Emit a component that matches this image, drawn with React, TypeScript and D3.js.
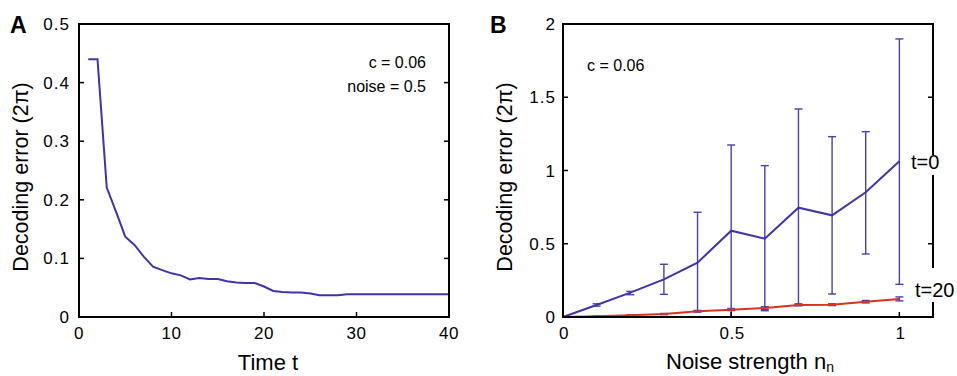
import React from "react";
import * as d3 from "d3";

const timeSteps = [1,2,3,4,5,6,7,8,9,10,11,12,13,14,15,16,17,18,19,20,21,22,23,24,25,26,27,28,29,30,31,32,33,34,35,36,37,38,39,40];
const errorA = [0.44,0.44,0.221,0.180,0.137,0.123,0.103,0.086,0.080,0.0745,0.071,0.064,0.0666,0.065,0.065,0.061,0.059,0.058,0.058,0.052,0.0444,0.0427,0.042,0.042,0.040,0.037,0.037,0.037,0.039,0.039,0.039,0.039,0.039,0.039,0.039,0.039,0.039,0.039,0.039,0.039];
const xTicksA = [0,10,20,30,40];
const yTicksA = [0,0.1,0.2,0.3,0.4,0.5];

const noiseLevels = [0,0.1,0.2,0.3,0.4,0.5,0.6,0.7,0.8,0.9,1.0];
const blueMean = [0,0.082,0.166,0.257,0.371,0.589,0.535,0.746,0.694,0.851,1.063];
const blueHi = [0,0.09,0.175,0.36,0.715,1.174,1.033,1.42,1.231,1.265,1.898];
const blueLo = [0,0.074,0.152,0.155,0.039,0.002,0.043,0.082,0.157,0.43,0.223];
const redMean = [0,0.005,0.012,0.02,0.039,0.05,0.061,0.082,0.084,0.104,0.123];
const redHi = [0,0.007,0.015,0.024,0.045,0.058,0.07,0.09,0.09,0.113,0.137];
const redLo = [0,0.003,0.009,0.016,0.033,0.044,0.052,0.076,0.078,0.096,0.11];
const xTicksB = [0,0.5,1];
const yTicksB = [0,0.5,1,1.5,2];

const BLUE = "#3f35a8";
const BLUE_ERR = "#4a40b0";
const RED = "#d8331f";
const FONT = "'Liberation Sans', Arial, sans-serif";

export default function App() {
  const top = 24, bottom = 317;
  const xA = d3.scaleLinear().domain([0, 40]).range([79, 449]);
  const yA = d3.scaleLinear().domain([0, 0.5]).range([bottom, top]);
  const xB = d3.scaleLinear().domain([0, 1.1]).range([563, 933]);
  const yB = d3.scaleLinear().domain([0, 2]).range([bottom, top]);

  const lineA = d3.line<number>().x((_, i) => xA(timeSteps[i])).y((d) => yA(d));
  const lineBlue = d3.line<number>().x((_, i) => xB(noiseLevels[i])).y((d) => yB(d));
  const tick = 5;
  const fmt = (v: number) => String(v);

  const errBars = (hi: number[], lo: number[], key: string) =>
    noiseLevels.map((n, i) => {
      if (hi[i] === lo[i]) return null;
      const x = xB(n);
      return (
        <g key={key + i} stroke={BLUE_ERR} strokeWidth={1.4}>
          <line x1={x} x2={x} y1={yB(hi[i])} y2={yB(lo[i])} />
          <line x1={x - 4} x2={x + 4} y1={yB(hi[i])} y2={yB(hi[i])} />
          <line x1={x - 4} x2={x + 4} y1={yB(lo[i])} y2={yB(lo[i])} />
        </g>
      );
    });

  return (
    <svg width={957} height={376} style={{ position: "fixed", left: 0, top: 0, background: "#fff" }} fontFamily={FONT}>
      <rect width={957} height={376} fill="#fff" />
      {/* Panel A */}
      <text x={10} y={33} fontSize={23} fontWeight="bold">A</text>
      <path d={lineA(errorA) || ""} fill="none" stroke={BLUE} strokeWidth={2} />
      <rect x={79} y={top} width={370} height={bottom - top} fill="none" stroke="#000" strokeWidth={2} />
      {xTicksA.map((t) => (
        <g key={"xa" + t}>
          <line x1={xA(t)} x2={xA(t)} y1={bottom} y2={bottom - tick} stroke="#000" strokeWidth={1.5} />
          <text x={xA(t)} y={339} fontSize={17} textAnchor="middle" letterSpacing={0.5}>{fmt(t)}</text>
        </g>
      ))}
      {yTicksA.map((t) => (
        <g key={"ya" + t}>
          <line x1={79} x2={79 + tick} y1={yA(t)} y2={yA(t)} stroke="#000" strokeWidth={1.5} />
          <line x1={449} x2={449 - tick} y1={yA(t)} y2={yA(t)} stroke="#000" strokeWidth={1.5} />
          <text x={70} y={yA(t) + 6} fontSize={17} textAnchor="end" letterSpacing={1}>{fmt(t)}</text>
        </g>
      ))}
      <text x={426} y={68} fontSize={16} textAnchor="end">c = 0.06</text>
      <text x={426} y={92} fontSize={16} textAnchor="end">noise = 0.5</text>
      <text x={268} y={370} fontSize={22} textAnchor="middle">Time t</text>
      <text transform="translate(28,177) rotate(-90)" fontSize={21.5} textAnchor="middle">Decoding error (2π)</text>

      {/* Panel B */}
      <text x={490} y={33} fontSize={23} fontWeight="bold">B</text>
      {errBars(blueHi, blueLo, "be")}
      {errBars(redHi, redLo, "re")}
      <path d={lineBlue(blueMean) || ""} fill="none" stroke={BLUE} strokeWidth={2} />
      <path d={lineBlue(redMean) || ""} fill="none" stroke={RED} strokeWidth={2} />
      <rect x={563} y={top} width={370} height={bottom - top} fill="none" stroke="#000" strokeWidth={2} />
      {xTicksB.map((t) => (
        <g key={"xb" + t}>
          <line x1={xB(t)} x2={xB(t)} y1={bottom} y2={bottom - tick} stroke="#000" strokeWidth={1.5} />
          <text x={xB(t) + 1} y={339} fontSize={17} textAnchor="middle" letterSpacing={0.5}>{fmt(t)}</text>
        </g>
      ))}
      {yTicksB.map((t) => (
        <g key={"yb" + t}>
          <line x1={563} x2={563 + tick} y1={yB(t)} y2={yB(t)} stroke="#000" strokeWidth={1.5} />
          <line x1={933} x2={933 - tick} y1={yB(t)} y2={yB(t)} stroke="#000" strokeWidth={1.5} />
          <text x={556} y={yB(t) + 6} fontSize={17} textAnchor="end" letterSpacing={1}>{fmt(t)}</text>
        </g>
      ))}
      <text x={587} y={71} fontSize={16}>c = 0.06</text>
      <rect x={910} y={155} width={34} height={20} fill="#fff" />
      <text x={911} y={169} fontSize={20}>t=0</text>
      <rect x={914} y={268} width={43} height={34} fill="#fff" />
      <text x={915} y={297} fontSize={20}>t=20</text>
      <text x={750} y={369} fontSize={22} textAnchor="middle">
        Noise strength n<tspan fontSize={14} dy={3}>n</tspan>
      </text>
      <text transform="translate(512,177) rotate(-90)" fontSize={21.5} textAnchor="middle">Decoding error (2π)</text>
    </svg>
  );
}
